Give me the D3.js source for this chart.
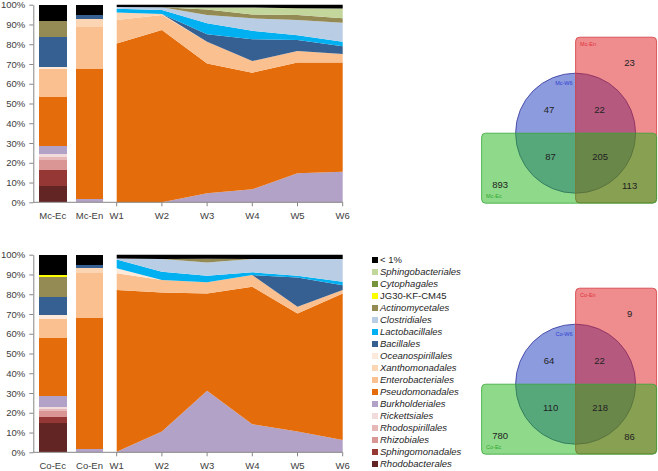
<!DOCTYPE html>
<html><head><meta charset="utf-8">
<script src="https://cdn.jsdelivr.net/npm/d3@7"></script>
<style>body{margin:0;background:#fff} svg{display:block} text{font-family:"Liberation Sans",Arial,sans-serif}</style>
</head><body><svg id="c" width="658" height="471"></svg>
<script>
// stacking order: bottom -> top
const orders = ["Rhodobacterales","Sphingomonadales","Rhizobiales","Rhodospirillales","Rickettsiales","Burkholderiales","Pseudomonadales","Enterobacteriales","Xanthomonadales","Oceanospirillales","Bacillales","Lactobacillales","Clostridiales","Actinomycetales","JG30-KF-CM45","Cytophagales","Sphingobacteriales","< 1%"];
const colors = ["#632523","#953735","#d99694","#e6b9b8","#f2dcdb","#b3a2c7","#e46c0a","#fac090","#fcd5b5","#fde9d9","#376092","#00b0f0","#b9cde5","#948a54","#ffff00","#77933c","#c3d69b","#000000"];
const italicOrder = orders.map(o => !(o === "< 1%" || o === "JG30-KF-CM45"));
const weeks = ["W1","W2","W3","W4","W5","W6"];
const yTicks = [0,10,20,30,40,50,60,70,80,90,100];

// Mc panel
const mcBars = ["Mc-Ec","Mc-En"];
const mcEc = [8,8.2,5,1.8,1.5,4.2,24.6,14.2,0,1,15,0,0,8.1,0,0.3,0,8.1];
const mcEn = [0,0,0,0,0,1.7,65.8,21.3,4.1,0,1.8,0,0,0,0,0,0,5.3];
const mcW1 = [0,0,0,0,0,0,80.4,11.8,3.8,0,0,2,0.8,0,0,0,0,1.2];
const mcW2 = [0,0,0,0,0,0,87.2,7.6,0.5,0,0,2,1.4,0,0,0,0,1.3];
const mcW3 = [0,0,0,0,0,4.6,65.7,11,0,0,3.7,5.6,4.2,2.8,0,0,1,1.4];
const mcW4 = [0,0,0,0,0,6.6,59,5.9,0,0,11,4.3,6.3,2,0,0,3.5,1.4];
const mcW5 = [0,0,0,0,0,14.7,56,5.9,0,0,5.5,2.5,7.6,2.6,0,0,3.4,1.8];
const mcW6 = [0,0,0,0,0,15.5,55.2,4.3,0,0,4,2.3,9.6,2.2,0,0,5,1.9];

// Co panel
const coBars = ["Co-Ec","Co-En"];
const coEc = [15,3,2.9,1.2,1,5.6,29.1,9.7,0,2,9.3,0,0,10.1,0.8,0,0,10.3];
const coEn = [0,0,0,0,0,1.7,66.1,22.8,2.5,0,1.7,0,0,0,0,0,0,5.2];
const coW1 = [0,0,0,0,0,0.3,81.8,8.5,0,2.5,0,4.5,0.5,0,0,0,0,1.9];
const coW2 = [0,0,0,0,0,10.5,70.4,6.3,0,0,0,4.2,6.4,0,0,0,0,2.2];
const coW3 = [0,0,0,0,0,31.2,49.2,5.6,0,0,0,3.4,6.7,1.9,0,0,0,2];
const coW4 = [0,0,0,0,0,14.2,69.6,5.9,0,0,0,1.4,6.7,0,0,0,0,2.2];
const coW5 = [0,0,0,0,0,10.5,59.8,3.4,0,0,14.7,1,8.4,0,0,0,0,2.2];
const coW6 = [0,0,0,0,0,6.2,74.2,1.7,0,0,2.5,1.7,11.5,0,0,0,0,2.2];

// Venn counts: [En only, W6 only, W6∩En, W6∩Ec, all three, Ec only, Ec∩En]
const mcSets = ["Mc-Ec","Mc-En","Mc-W6"];
const mcVenn = [23,47,22,87,205,893,113];
const coSets = ["Co-Ec","Co-En","Co-W6"];
const coVenn = [9,64,22,110,218,780,86];

const svg = d3.select("#c");
const keys = d3.range(orders.length);
const stack = d3.stack().keys(keys).value((d,k)=>d.v[k]);

function panel(oy, barNames, barVals, weekVals){
  const g = svg.append("g").attr("transform",`translate(0,${oy})`);
  const y = d3.scaleLinear().domain([0,100]).range([202.3,4.7]);
  const xb = d3.scaleBand().domain(barNames).range([34.3,107.9]).paddingInner(0.24).paddingOuter(0.12);
  const xw = d3.scalePoint().domain(weeks).range([116.7,342.7]);

  const barRows = barNames.map((n,i)=>({name:n, v:barVals[i]}));
  const weekRows = weeks.map((n,i)=>({name:n, v:weekVals[i]}));
  const sb = stack(barRows), sw = stack(weekRows);

  sb.forEach((s,k)=>{
    g.selectAll(null).data(s).join("rect")
      .attr("x",d=>xb(d.data.name)).attr("width",xb.bandwidth())
      .attr("y",d=>y(d[1])).attr("height",d=>Math.max(0,y(d[0])-y(d[1])))
      .attr("fill",colors[k]).attr("shape-rendering","crispEdges");
  });
  const area = d3.area().x(d=>xw(d.data.name)).y0(d=>y(d[0])).y1(d=>y(d[1]));
  sw.forEach((s,k)=>{
    g.append("path").datum(s).attr("d",area).attr("fill",colors[k]);
  });

  const ax = g.append("g").attr("transform","translate(33.3,0)")
    .call(d3.axisLeft(y).tickValues(yTicks).tickFormat(d=>d+"%").tickSize(4).tickSizeOuter(0).tickPadding(4));
  ax.select(".domain").attr("stroke","#868686");
  ax.selectAll(".tick line").attr("stroke","#868686");
  ax.selectAll("text").attr("font-size",9.5).attr("fill","#404040").attr("font-family","Liberation Sans, Arial, sans-serif");

  g.append("line").attr("x1",33.3).attr("x2",xw("W6")).attr("y1",y(0)).attr("y2",y(0)).attr("stroke","#868686");
  g.selectAll(null).data(weeks).join("line")
    .attr("x1",d=>xw(d)).attr("x2",d=>xw(d)).attr("y1",y(0)).attr("y2",y(0)+4).attr("stroke","#868686");
  const lab = barNames.map(n=>({t:n, x:xb(n)+xb.bandwidth()/2})).concat(weeks.map(w=>({t:w,x:xw(w)})));
  g.selectAll(null).data(lab).join("text")
    .attr("x",d=>d.x).attr("y",y(0)+16.3).attr("text-anchor","middle")
    .attr("font-size",9.5).attr("fill","#404040").text(d=>d.t);
}

panel(0, mcBars, [mcEc, mcEn], [mcW1,mcW2,mcW3,mcW4,mcW5,mcW6]);
panel(250, coBars, [coEc, coEn], [coW1,coW2,coW3,coW4,coW5,coW6]);

// legend (top -> bottom)
const legendOrder = d3.range(orders.length).reverse();
const ly = d3.scalePoint().domain(legendOrder).range([260,464]);
const lg = svg.append("g");
lg.selectAll(null).data(legendOrder).join("rect")
  .attr("x",372).attr("y",k=>ly(k)-3).attr("width",6).attr("height",6).attr("fill",k=>colors[k]);
lg.selectAll(null).data(legendOrder).join("text")
  .attr("x",380).attr("y",k=>ly(k)).attr("dy","0.35em")
  .attr("font-size",9.5).attr("fill","#262626")
  .attr("font-style",k=>italicOrder[k]?"italic":"normal")
  .text(k=>orders[k]);

// Venn
function venn(cx, cy, sets, counts){
  const r = 60;
  const g = svg.append("g");
  g.append("circle").attr("cx",cx).attr("cy",cy).attr("r",r)
    .attr("fill","rgb(25,55,189)").attr("fill-opacity",0.5).attr("stroke","#35359a").attr("stroke-width",0.8);
  g.append("rect").attr("x",cx).attr("y",cy-96).attr("width",81).attr("height",165.7).attr("rx",4)
    .attr("fill","rgb(221,25,29)").attr("fill-opacity",0.5).attr("stroke","#d3383d").attr("stroke-width",0.8);
  g.append("rect").attr("x",cx-94).attr("y",cy).attr("width",175).attr("height",70).attr("rx",4)
    .attr("fill","rgb(31,179,21)").attr("fill-opacity",0.5).attr("stroke","#36a836").attr("stroke-width",0.8);
  const pos = [[54,-71],[-26.5,-24],[24,-24],[-25,23.5],[24.5,23.5],[-75.5,51.5],[54,52.5]];
  g.selectAll(null).data(counts).join("text")
    .attr("x",(d,i)=>cx+pos[i][0]).attr("y",(d,i)=>cy+pos[i][1]).attr("dy","0.35em")
    .attr("text-anchor","middle").attr("font-size",9.5).attr("fill","#222").text(d=>d);
  g.append("text").attr("x",cx+4.5).attr("y",cy-89).attr("dy","0.35em").attr("font-size",5.5).attr("fill","#e0303a").text(sets[1]);
  g.append("text").attr("x",cx-3).attr("y",cy-50).attr("dy","0.35em").attr("text-anchor","end").attr("font-size",5.5).attr("fill","#3040d0").text(sets[2]);
  g.append("text").attr("x",cx-89.5).attr("y",cy+62.7).attr("dy","0.35em").attr("font-size",5.5).attr("fill","#30a830").text(sets[0]);
}
venn(575.6, 133.2, mcSets, mcVenn);
venn(575.6, 384.2, coSets, coVenn);
</script></body></html>
